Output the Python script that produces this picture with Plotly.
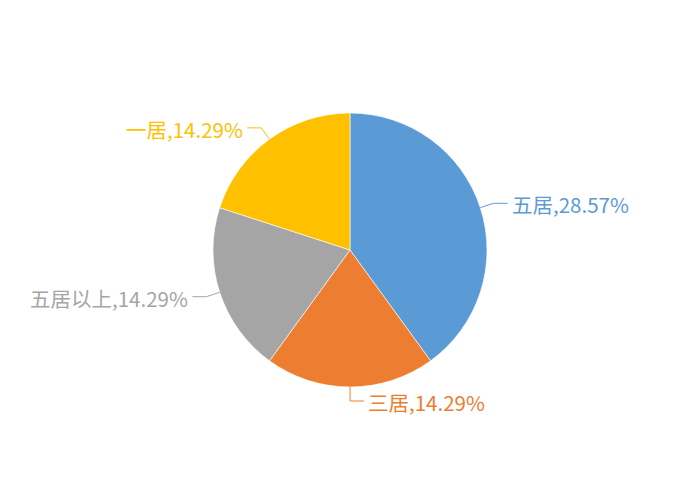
import math
import plotly.graph_objects as go

labels = ["五居", "三居", "五居以上", "一居"]
values = [28.57, 14.29, 14.29, 14.29]
colors = ["#5B9BD5", "#ED7D31", "#A5A5A5", "#FFC000"]

W, H = 700, 500
# page body has an 8px margin, so shift the drawing back by that much
off = 8
cx, cy, r = 350 - off, 250 - off, 137
len1, len2, gap = 14, 14, 2

fig = go.Figure()
fig.add_trace(go.Pie(
    labels=labels, values=values, sort=False, direction="clockwise", rotation=0,
    marker=dict(colors=colors, line=dict(color="#ffffff", width=0.6)),
    textinfo="none", hoverinfo="label+percent", showlegend=False,
    domain=dict(x=[(cx - r) / W, (cx + r) / W], y=[(H - cy - r) / H, (H - cy + r) / H]),
))

# leader lines and labels, placed from the slice mid-angles
total = sum(values)
start = 0.0
shapes, annotations = [], []
for lab, val, col in zip(labels, values, colors):
    mid = (start + val / 2) / total * 2 * math.pi
    start += val
    sx, sy = math.sin(mid), -math.cos(mid)
    x0, y0 = cx + r * sx, cy + r * sy
    x1, y1 = cx + (r + len1) * sx, cy + (r + len1) * sy
    side = 1 if sx >= -1e-9 else -1
    x2 = x1 + side * len2
    path = f"M {x0/W},{1-y0/H} L {x1/W},{1-y1/H} L {x2/W},{1-y1/H}"
    shapes.append(dict(type="path", xref="paper", yref="paper", path=path,
                       line=dict(color=col, width=1)))
    annotations.append(dict(
        x=(x2 + side * gap) / W, y=1 - (y1 + 1) / H, xref="paper", yref="paper",
        text=f"{lab},{val:.2f}%", showarrow=False,
        xanchor="left" if side > 0 else "right", yanchor="middle",
        font=dict(color=col, size=20.5, family="Noto Sans CJK SC"),
    ))

fig.update_layout(
    width=W, height=H, margin=dict(l=0, r=0, t=0, b=0),
    paper_bgcolor="#ffffff", plot_bgcolor="#ffffff",
    shapes=shapes, annotations=annotations,
)
fig.write_html("out.html")
